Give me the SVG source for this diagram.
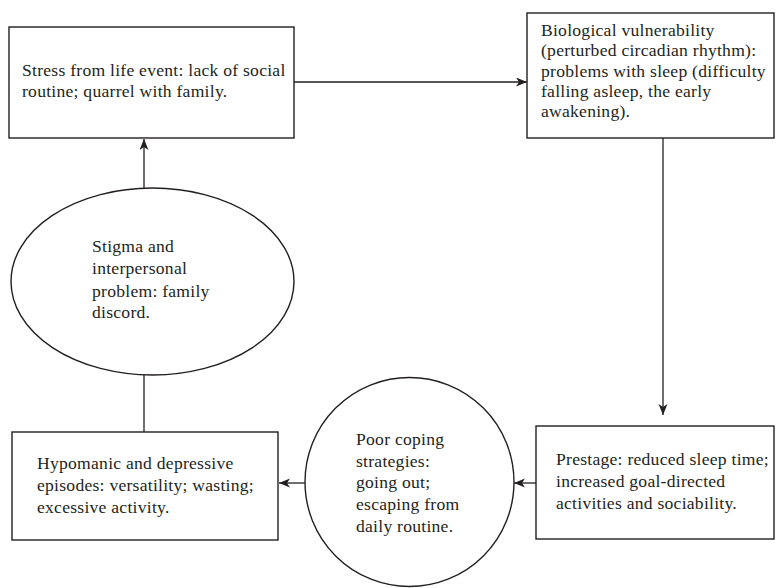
<svg xmlns="http://www.w3.org/2000/svg" width="777" height="588" viewBox="0 0 777 588">
<style>
.box{fill:#fff;stroke:#231f20;stroke-width:1.4}
.t{font-family:"Liberation Serif","Times New Roman",serif;font-size:17.6px;letter-spacing:0.25px;fill:#231f20}
.c{fill:none;stroke:#231f20;stroke-width:1.3}
</style>
<defs>
<marker id="ah" markerUnits="userSpaceOnUse" markerWidth="12" markerHeight="10" refX="11" refY="4.5" orient="auto">
<path d="M0,0 L11,4.5 L0,9 L3,4.5 z" fill="#231f20"/>
</marker>
</defs>
<rect width="777" height="588" fill="#fff"/>
<g id="connectors">
<line class="c" x1="294" y1="82" x2="527" y2="82" marker-end="url(#ah)"/>
<line class="c" x1="663" y1="138" x2="663" y2="415" marker-end="url(#ah)"/>
<line class="c" x1="536" y1="483" x2="514" y2="483" marker-end="url(#ah)"/>
<line class="c" x1="305" y1="483" x2="279" y2="483" marker-end="url(#ah)"/>
<line class="c" x1="144" y1="432" x2="144" y2="375"/>
<line class="c" x1="144" y1="188" x2="144" y2="139" marker-end="url(#ah)"/>
</g>
<g id="stress">
<rect class="box" x="9" y="27" width="285" height="111"/>
<text class="t" x="22" y="76">Stress from life event: lack of social</text>
<text class="t" x="22" y="97">routine; quarrel with family.</text>
</g>
<g id="biological">
<rect class="box" x="527" y="13" width="247" height="125"/>
<text class="t" x="541" y="36">Biological vulnerability</text>
<text class="t" x="541" y="56">(perturbed circadian rhythm):</text>
<text class="t" x="541" y="77">problems with sleep (difficulty</text>
<text class="t" x="541" y="97">falling asleep, the early</text>
<text class="t" x="541" y="117">awakening).</text>
</g>
<g id="prestage">
<rect class="box" x="536" y="426" width="238" height="113"/>
<text class="t" x="556" y="465">Prestage: reduced sleep time;</text>
<text class="t" x="556" y="487">increased goal-directed</text>
<text class="t" x="556" y="509">activities and sociability.</text>
</g>
<g id="coping">
<circle class="box" cx="409.5" cy="482" r="104.5"/>
<text class="t" x="356" y="445">Poor coping</text>
<text class="t" x="356" y="467">strategies:</text>
<text class="t" x="356" y="488">going out;</text>
<text class="t" x="356" y="510">escaping from</text>
<text class="t" x="356" y="532">daily routine.</text>
</g>
<g id="hypomanic">
<rect class="box" x="12" y="432" width="266" height="108"/>
<text class="t" x="37" y="469">Hypomanic and depressive</text>
<text class="t" x="37" y="491">episodes: versatility; wasting;</text>
<text class="t" x="37" y="513">excessive activity.</text>
</g>
<g id="stigma">
<ellipse class="box" cx="152.5" cy="281.5" rx="141.5" ry="93.5"/>
<text class="t" x="92" y="252">Stigma and</text>
<text class="t" x="92" y="274">interpersonal</text>
<text class="t" x="92" y="297">problem: family</text>
<text class="t" x="92" y="318">discord.</text>
</g>
</svg>
